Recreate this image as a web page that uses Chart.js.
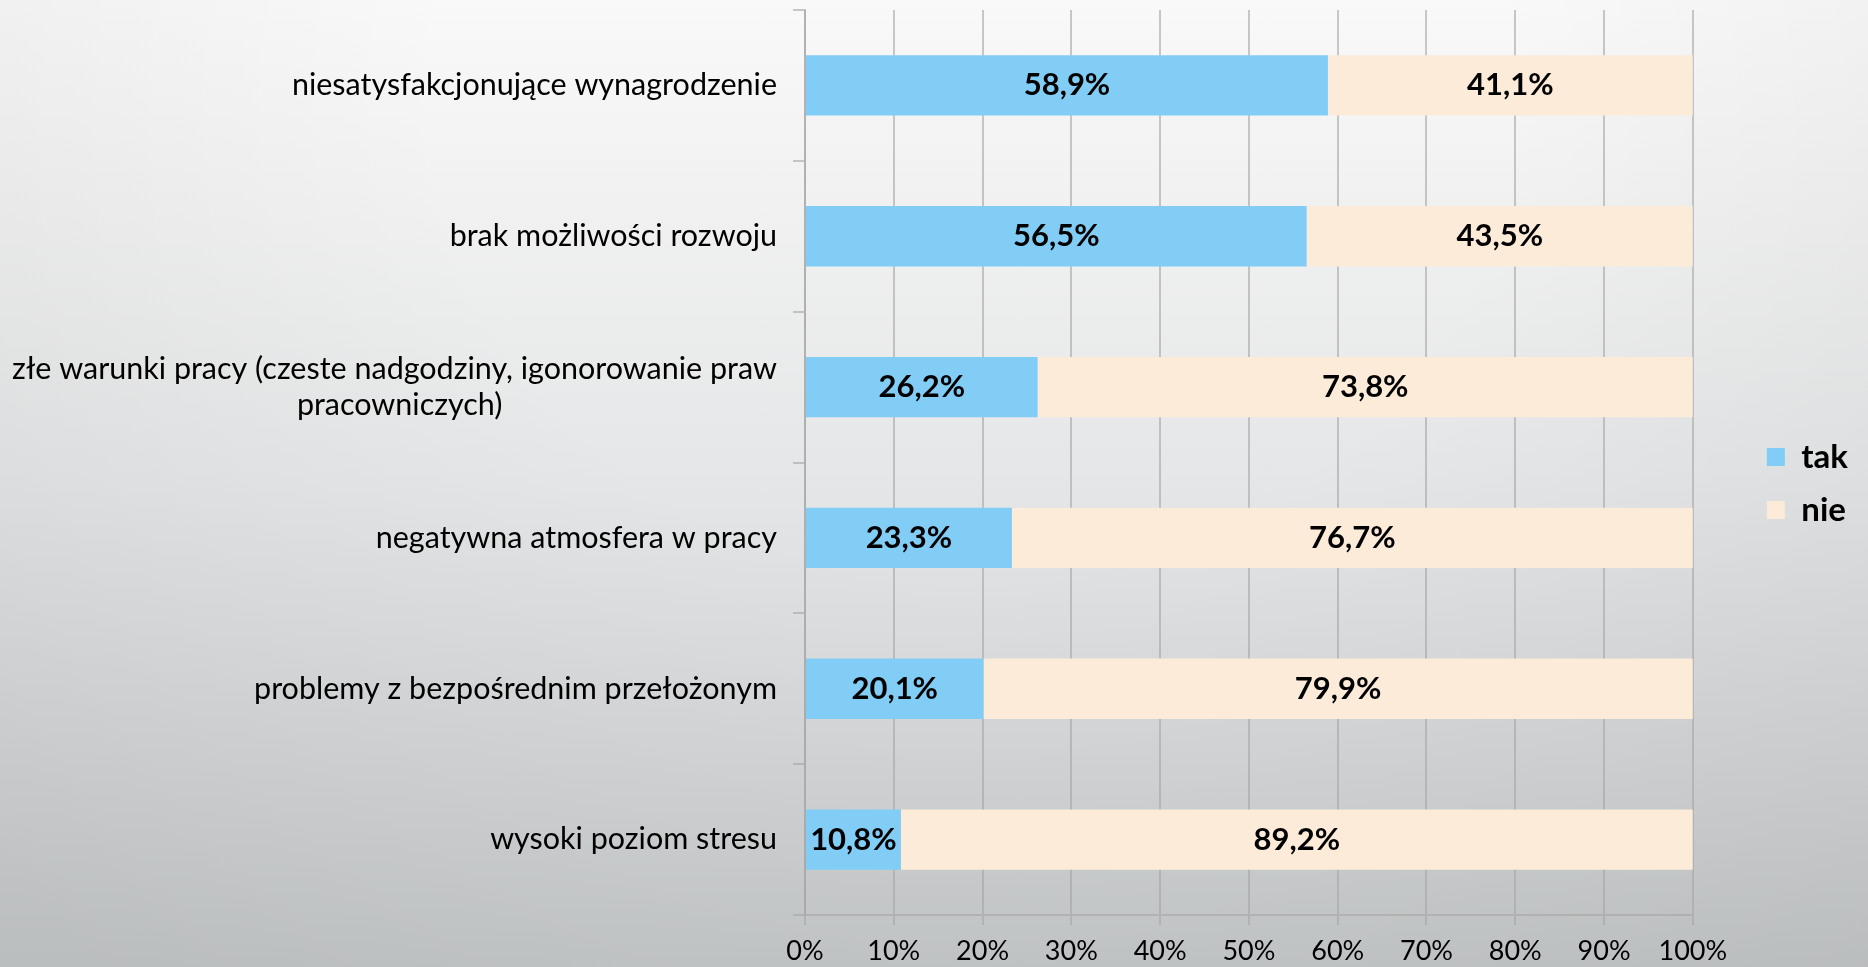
<!DOCTYPE html>
<html>
<head>
<meta charset="utf-8">
<script src="https://cdn.jsdelivr.net/npm/chart.js@4"></script>
<style>
  html, body { margin: 0; padding: 0; }
  body {
    width: 1868px;
    height: 967px;
    overflow: hidden;
    background:
      radial-gradient(ellipse 70% 120% at 52% 10%, rgba(0,0,0,0) 40%, rgba(0,0,0,0.06) 100%),
      linear-gradient(to bottom, #f9f9f9 0%, #e5e6e7 50%, #d5d7d8 75%, #c6c9ca 100%);
  }
  #wrap { position: relative; width: 1868px; height: 967px; }
</style>
</head>
<body>
<div id="wrap"><canvas id="chart"></canvas></div>
<script>
// data (percent of answers)
const categories = [
  "niesatysfakcjonujące wynagrodzenie",
  "brak możliwości rozwoju",
  ["złe warunki pracy (czeste nadgodziny, igonorowanie praw", "pracowniczych)"],
  "negatywna atmosfera w pracy",
  "problemy z bezpośrednim przełożonym",
  "wysoki poziom stresu"
];
const seriesNames = ["tak", "nie"];
const takValues = [58.9, 56.5, 26.2, 23.3, 20.1, 10.8];
const nieValues = [41.1, 43.5, 73.8, 76.7, 79.9, 89.2];

const FONT = "Lato";
const gridColor = "rgba(165,165,165,0.6)";
Chart.defaults.font.family = FONT;
Chart.defaults.color = "#000";

// centre the 2nd line of a wrapped label under the first one
function centerSecondLine(lines, font) {
  const c = document.createElement("canvas").getContext("2d");
  c.font = font;
  const gap = (c.measureText(lines[0]).width - c.measureText(lines[1]).width) / 2;
  const sp = c.measureText("\u2002").width;
  return [lines[0], lines[1] + "\u2002".repeat(Math.round(gap / sp))];
}
const yLabels = categories.map((l) => Array.isArray(l) ? centerSecondLine(l, "30.5px " + FONT) : l);

// value labels in the middle of each bar segment
const barLabels = {
  id: "barLabels",
  afterDatasetsDraw(chart) {
    const ctx = chart.ctx;
    ctx.save();
    ctx.font = "bold 31px " + FONT;
    ctx.fillStyle = "#000";
    ctx.textAlign = "center";
    ctx.textBaseline = "middle";
    chart.data.datasets.forEach((ds, i) => {
      chart.getDatasetMeta(i).data.forEach((bar, j) => {
        const p = bar.getProps(["x", "y", "base"], true);
        const txt = ds.data[j].toFixed(1).replace(".", ",") + "%";
        ctx.fillText(txt, (p.x + p.base) / 2, p.y);
      });
    });
    ctx.restore();
  }
};

new Chart(document.getElementById("chart"), {
  type: "bar",
  data: {
    labels: yLabels,
    datasets: [
      { label: seriesNames[0], data: takValues, backgroundColor: "#82cdf5", borderWidth: 0,
        categoryPercentage: 0.4, barPercentage: 1 },
      { label: seriesNames[1], data: nieValues, backgroundColor: "#fbebd8", borderWidth: 0,
        categoryPercentage: 0.4, barPercentage: 1 }
    ]
  },
  options: {
    indexAxis: "y",
    responsive: true,
    maintainAspectRatio: false,
    animation: false,
    layout: { padding: { top: 0, right: 10, bottom: 0, left: 0 } },
    scales: {
      x: {
        stacked: true,
        min: 0,
        max: 100,
        ticks: { stepSize: 10, callback: (v) => v + "%", font: { size: 27 }, padding: 10 },
        grid: { color: gridColor, lineWidth: 2, tickLength: 10 },
        border: { color: gridColor, width: 2 },
        afterFit: (s) => { s.height = 52; }
      },
      y: {
        stacked: true,
        ticks: { font: { size: 30.5, lineHeight: 1.2 }, padding: 16 },
        grid: { drawOnChartArea: false, color: gridColor, lineWidth: 2, tickLength: 12, offset: true },
        border: { color: gridColor, width: 2 },
        afterFit: (s) => { s.width = 805; s.paddingTop = 10; s.paddingBottom = 0; }
      },
      // empty spacer between plot and legend
      pad: {
        type: "linear",
        position: "right",
        ticks: { display: false },
        grid: { display: false },
        border: { display: false },
        afterFit: (s) => { s.width = 54; }
      }
    },
    plugins: {
      tooltip: { enabled: false },
      legend: {
        position: "right",
        labels: { boxWidth: 18, boxHeight: 18, padding: 20, font: { size: 33, weight: "bold" }, color: "#000" }
      }
    }
  },
  plugins: [barLabels]
});
</script>
</body>
</html>
